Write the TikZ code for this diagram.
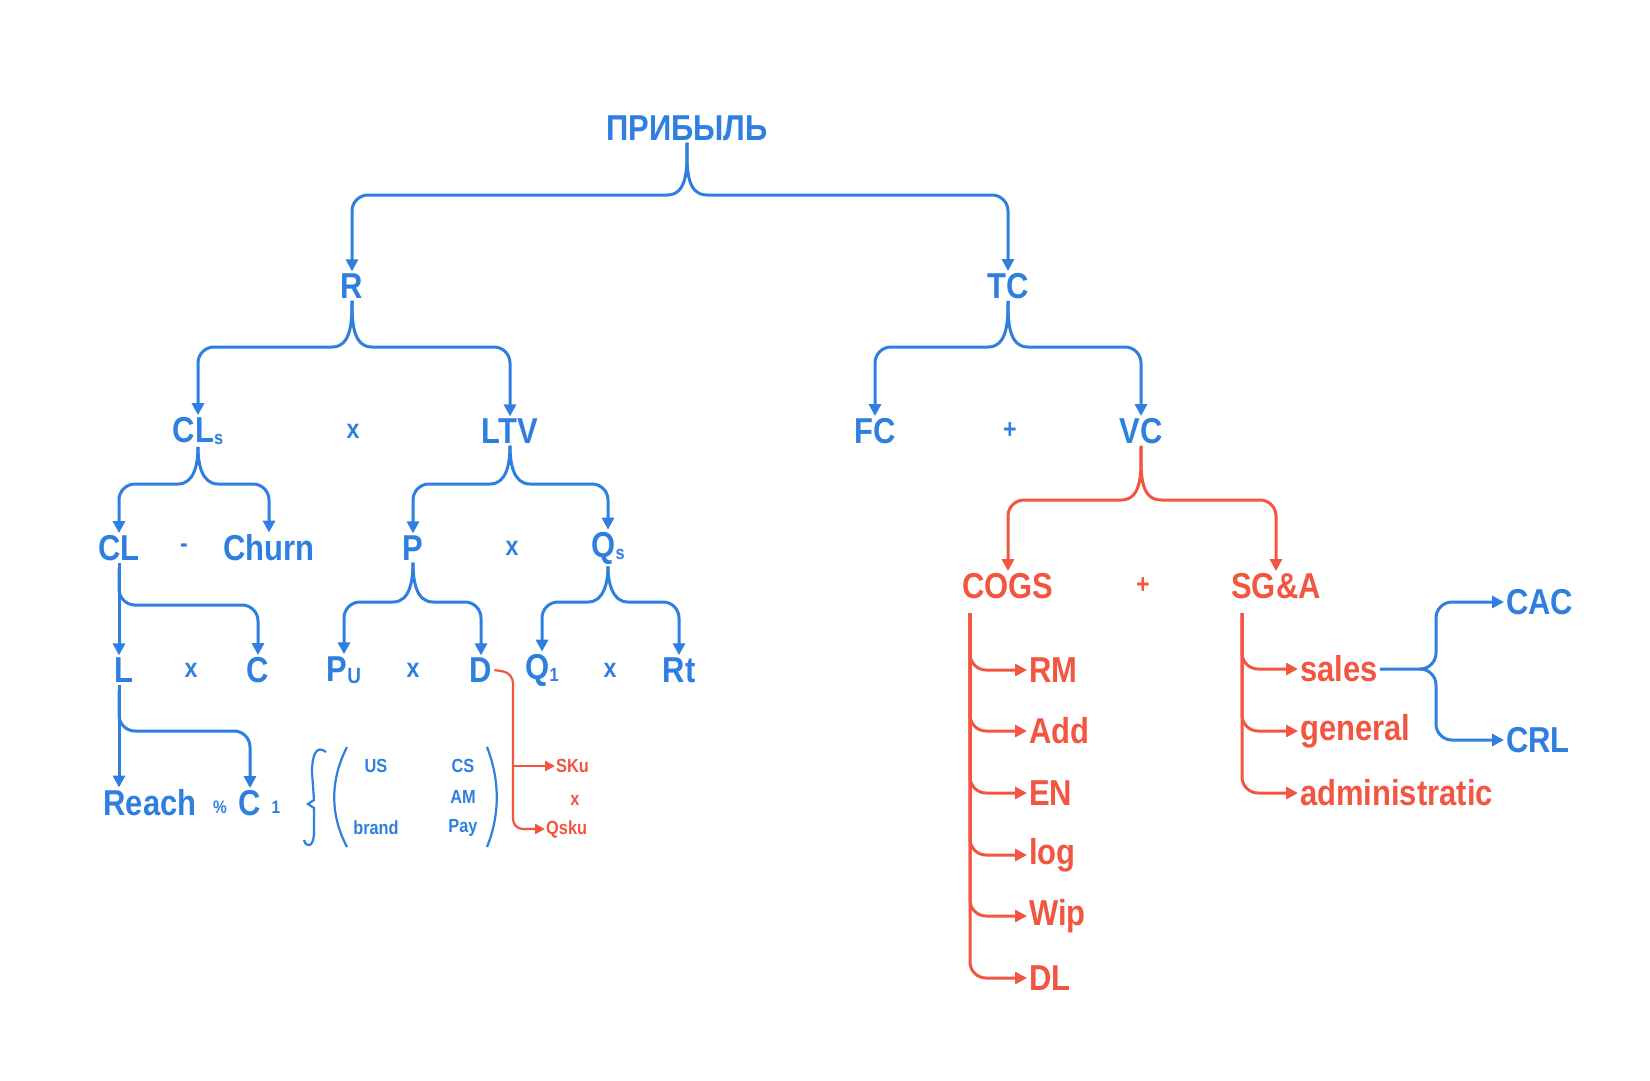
\documentclass[tikz,border=0pt]{standalone}
\usepackage{fontspec}
\setmainfont{Liberation Sans}[FakeStretch=0.86]
\usetikzlibrary{arrows.meta,calc}
\definecolor{bl}{HTML}{2E7FE0}
\definecolor{rd}{HTML}{F25540}
\newcommand\fs[1]{\fontsize{#1}{#1}\selectfont}
\tikzset{
 t/.style={font=\bfseries\fs{36}, inner sep=2pt, text=bl},
 op/.style={font=\bfseries\fs{27}, inner sep=2pt, text=bl},
 sm/.style={font=\bfseries\fs{19}, inner sep=1pt, text=bl},
 arr/.style={line width=3pt, draw=bl, -{Triangle[length=12pt,width=12pt]}},
 rarr/.style={arr, draw=rd},
 ln/.style={line width=3pt, draw=bl},
}
\newcommand\brc[5]{%
 \draw[#5] (#1.south) to[out=-90,in=0] ($(#1.south|-#4)+(-20,0)$) [rounded corners=16pt] -- (#2.north|-#4) -- (#2.north);
 \draw[#5] (#1.south) to[out=-90,in=180] ($(#1.south|-#4)+(20,0)$) [rounded corners=16pt] -- (#3.north|-#4) -- (#3.north);}
\begin{document}
\begin{tikzpicture}[x=1pt,y=-1pt]
\useasboundingbox (0,0) rectangle (1650,1080);
\foreach \n/\v in {b0/195,b1/347,b2/484,b3/500,b4/602,b5/605,b6/731}{\coordinate (\n) at (0,\v);}
\node[t] (top) at (687,128) {ПРИБЫЛЬ};
\node[t] (R) at (352,286) {R};
\node[t] (TC) at (1008,286) {TC};
\node[t] (CLs) at (198,431) {CL\raisebox{-2pt}{\fs{19}s}};
\node[op] (x1) at (353,431) {x};
\node[t] (LTV) at (510,431) {LTV};
\node[t] (FC) at (875,431) {FC};
\node[op] (p1) at (1010,431) {+};
\node[t] (VC) at (1141,431) {VC};
\node[t] (CL) at (119,548) {CL};
\node[op] (mi) at (184,548) {-};
\node[t] (Churn) at (269,548) {Churn};
\node[t] (P) at (413,548) {P};
\node[op] (x2) at (512,548) {x};
\node[t] (Qs) at (608,548) {Q\raisebox{-2pt}{\fs{19}s}};
\node[t,text=rd] (COGS) at (1008,586) {COGS};
\node[op,text=rd] (p2) at (1143,586) {+};
\node[t,text=rd] (SGA) at (1276,586) {SG\&A};
\node[t] (L) at (124,670) {L};
\node[op] (x3) at (191,670) {x};
\node[t] (C) at (258,670) {C};
\node[t] (Pu) at (344,670) {P\raisebox{-2pt}{\fs{22}U}};
\node[op] (x4) at (413,670) {x};
\node[t] (D) at (481,670) {D};
\node[t] (Q1) at (542,670) {Q\raisebox{-2pt}{\fs{19}1}};
\node[op] (x5) at (610,670) {x};
\node[t] (Rt) at (679,670) {Rt};
\node[t] (Reach) at (150,803) {Reach};
\node[op,font=\bfseries\fs{18}] (pct) at (220,807) {\%};
\node[t] (C1) at (250,803) {C};
\node[op,font=\bfseries\fs{18}] (one) at (276,807) {1};
\node[sm] (US) at (376,766) {US};
\node[sm] (brand) at (376,828) {brand};
\node[sm] (CS) at (463,766) {CS};
\node[sm] (AM) at (463,797) {AM};
\node[sm] (Pay) at (463,828) {Pay};
\draw[ln,line width=2.2pt] (326,752) .. controls (316,744) and (312,756) .. (312,772) -- (314,800) -- (308,804) -- (314,808) -- (314,832) .. controls (314,848) and (306,848) .. (304,840);
\draw[ln,line width=2.2pt] (347,747) .. controls (330,780) and (330,815) .. (347,847);
\draw[ln,line width=2.2pt] (487,747) .. controls (500,780) and (500,815) .. (487,847);
\node[sm,text=rd,anchor=west] (SKu) at (555,766) {SKu};
\node[sm,text=rd] (xr) at (575,800) {x};
\node[sm,text=rd,anchor=west] (Qsku) at (545,829) {Qsku};
\draw[rarr,line width=2.2pt,-{Triangle[length=10pt,width=10pt]}, rounded corners=10pt] (D.east) -- (513,673) |- (Qsku.west);
\draw[rarr,line width=2.2pt,-{Triangle[length=10pt,width=10pt]}] (513,766) -- (SKu.west);
\brc{top}{R}{TC}{b0}{arr}
\brc{R}{CLs}{LTV}{b1}{arr}
\brc{TC}{FC}{VC}{b1}{arr}
\brc{CLs}{CL}{Churn}{b2}{arr}
\brc{LTV}{P}{Qs}{b2}{arr}
\brc{VC}{COGS}{SGA}{b3}{rarr}
\brc{P}{Pu}{D}{b4}{arr}
\brc{Qs}{Q1}{Rt}{b4}{arr}
\draw[arr] (CL.south) -- (CL.south|-L.north);
\draw[arr, rounded corners=16pt] ($(CL.south)+(0,6)$) |- (C.north|-b5) -- (C.north);
\draw[arr] (L.south-|CL.south) -- (CL.south|-Reach.north);
\draw[arr, rounded corners=16pt] ($(L.south-|CL.south)+(0,6)$) |- (C1.north|-b6) -- (C1.north);
\foreach \n/\s/\y in {RM/RM/670, Add/Add/731, EN/EN/793, log/log/855, Wip/Wip/916, DL/DL/978}{
 \node[t,text=rd,anchor=west] (\n) at (1027,\y) {\s};
 \draw[rarr, rounded corners=16pt] (970,613) |- (\n.west);}
\foreach \n/\s/\y in {sales/sales/669, general/general/731, adm/administratic/793}{
 \node[t,text=rd,anchor=west] (\n) at (1298,\y) {\s};
 \draw[rarr, rounded corners=16pt] (1242,613) |- (\n.west);}
\node[t,anchor=west] (CAC) at (1504,602) {CAC};
\node[t,anchor=west] (CRL) at (1504,740) {CRL};
\draw[arr, rounded corners=16pt] (sales.east) -- (1436,669) |- (CAC.west);
\draw[arr, rounded corners=16pt] (1420,669) -- (1436,669) |- (CRL.west);
\end{tikzpicture}
\end{document}
